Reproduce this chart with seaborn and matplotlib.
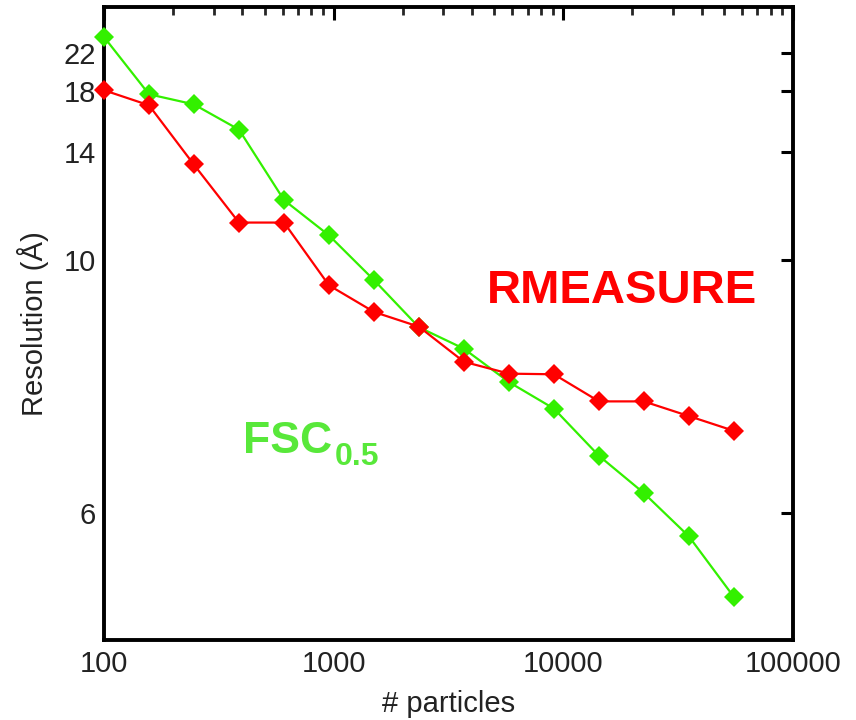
import numpy as np
import pandas as pd
import matplotlib
matplotlib.use("Agg")
import matplotlib.pyplot as plt
import seaborn as sns
from matplotlib.ticker import FixedLocator, FixedFormatter, LogLocator, NullFormatter, NullLocator

# ---- data ----
particles = [100, 157, 246, 387, 608, 954, 1500, 2350, 3690, 5800, 9100, 14300, 22400, 35200, 55300]
fsc_res = [24.25, 17.76, 16.96, 15.24, 11.88, 10.70, 9.50, 8.50, 8.11, 7.57, 7.19, 6.60, 6.20, 5.79, 5.30]
rmeasure_res = [18.10, 16.89, 13.37, 11.10, 11.10, 9.38, 8.80, 8.51, 7.89, 7.70, 7.69, 7.29, 7.29, 7.09, 6.90]
y_ticks = [6, 10, 14, 18, 22]
x_ticks = [100, 1000, 10000, 100000]
x_tick_labels = ["100", "1000", "10000", "100000"]

df = pd.DataFrame({
    "particles": particles * 2,
    "res": fsc_res + rmeasure_res,
    "method": ["FSC"] * len(particles) + ["RMEASURE"] * len(particles),
})

sns.set_theme(style="white")
plt.rcParams["font.family"] = ["Liberation Sans", "DejaVu Sans"]

GREEN = "#33F000"
GREEN_TXT = "#58E83A"
RED = "#FF0000"

fig = plt.figure(figsize=(8.56, 7.2), dpi=100)
ax = fig.add_axes([104 / 856, 1 - 640 / 720, (793 - 104) / 856, (640 - 7) / 720])

sns.lineplot(data=df, x="particles", y="res", hue="method",
             hue_order=["FSC", "RMEASURE"],
             palette={"FSC": GREEN, "RMEASURE": RED},
             marker="D", markersize=10, markeredgewidth=0, linewidth=1.6,
             legend=False, ax=ax, sort=False)
for i, ln in enumerate(ax.lines):
    ln.set_clip_on(False)
    ln.set_zorder(6 + i)

ax.set_xscale("log")


def fwd(d):
    d = np.asarray(d, dtype=float)
    with np.errstate(divide="ignore", invalid="ignore"):
        return -1.0 / d


def inv(u):
    u = np.asarray(u, dtype=float)
    with np.errstate(divide="ignore", invalid="ignore"):
        return -1.0 / u


ax.set_yscale("function", functions=(fwd, inv))
ax.set_xlim(100, 100000)
ax.set_ylim(5, 30)

ax.xaxis.set_major_locator(FixedLocator(x_ticks))
ax.xaxis.set_major_formatter(FixedFormatter(x_tick_labels))
ax.xaxis.set_minor_locator(LogLocator(base=10, subs=np.arange(2, 10)))
ax.xaxis.set_minor_formatter(NullFormatter())

ax.yaxis.set_major_locator(FixedLocator(y_ticks))
ax.yaxis.set_major_formatter(FixedFormatter([str(v) for v in y_ticks]))
ax.yaxis.set_minor_locator(NullLocator())

for s in ax.spines.values():
    s.set_linewidth(2.8)
    s.set_color("black")
    s.set_zorder(5)

ax.tick_params(axis="both", which="major", direction="in", length=9, width=2.2,
               top=True, right=True, labelsize=21, colors="black", labelcolor="#222222")
ax.tick_params(axis="x", which="major", pad=7)
ax.tick_params(axis="y", which="major", pad=6)
ax.tick_params(axis="both", which="minor", direction="in", length=5.5, width=2.0,
               top=True, right=True)

ax.set_xlabel("# particles", fontsize=21, color="#222222", labelpad=9)
ax.set_ylabel("Resolution (Å)", fontsize=21, color="#222222", labelpad=10)

ax.text(0.556, 0.532, "RMEASURE", transform=ax.transAxes, ha="left", va="baseline",
        fontsize=34, fontweight="bold", color=RED)
ax.text((243 - 104) / 689, (640 - 453) / 633, "FSC", transform=ax.transAxes,
        ha="left", va="baseline", fontsize=32, fontweight="bold", color=GREEN_TXT)
ax.text((335 - 104) / 689, (640 - 465) / 633, "0.5", transform=ax.transAxes,
        ha="left", va="baseline", fontsize=23, fontweight="bold", color=GREEN_TXT)

fig.savefig("out.png", dpi=100, facecolor="white")
